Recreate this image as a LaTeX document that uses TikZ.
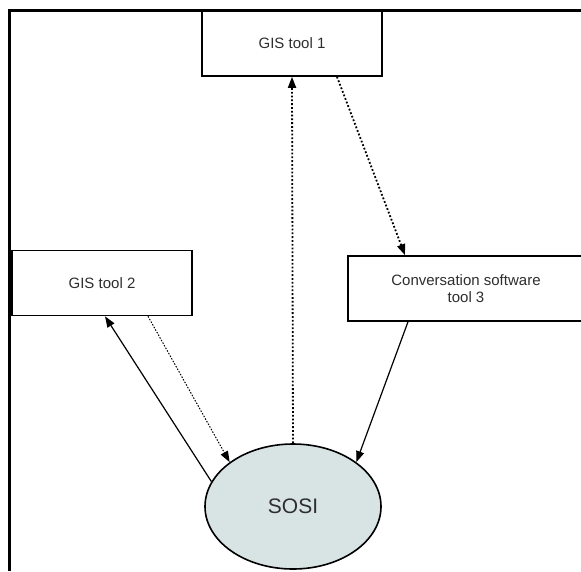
\documentclass[tikz,border=0pt]{standalone}
\usepackage{fontspec}
\setmainfont{Liberation Sans}
\usepackage{xcolor}
\usetikzlibrary{positioning,shapes.geometric,arrows.meta}
\definecolor{sosifill}{HTML}{D8E4E4}
\definecolor{labeltext}{HTML}{2E2E2E}
\tikzset{
  toolbox/.style={draw=black, line width=1.6pt, fill=white, inner sep=0pt,
    minimum width=180pt, minimum height=65pt, align=center,
    font=\fontsize{15}{17.5}\selectfont\color{labeltext}},
  formatnode/.style={ellipse, draw=black, line width=1.6pt, fill=sosifill, inner sep=0pt,
    minimum width=176pt, minimum height=125pt,
    font=\fontsize{21}{25}\selectfont\color{labeltext}},
  solidflow/.style={line width=1.2pt, -{Triangle[length=11pt,width=8pt]}},
  dotflow/.style={line width=1.8pt, dotted, -{Triangle[length=11pt,width=8pt]}},
  thindotflow/.style={line width=1pt, dash pattern=on 1.5pt off 1.5pt, -{Triangle[length=11pt,width=8pt]}},
}
\begin{document}
\begin{tikzpicture}[x=1pt, y=-1pt]

% Canvas and frame
\clip (0,0) rectangle (581,571);
\fill[white] (0,0) rectangle (581,571);
\draw[line width=3pt] (581,10) -- (9.5,10) -- (9.5,571);

% Tools
\node[toolbox] (gisone) at (292,43.5) {GIS tool 1};
\node[toolbox] (gistwo) at (102,283) {GIS tool 2};
\node[toolbox, minimum width=236pt] (convtool) at (466,288.5) {Conversation software\\tool 3};

% Exchange format
\node[formatnode] (sosi) at (293,506.5) {SOSI};

% Flows
\draw[dotflow] (sosi.north) -- (gisone.south);
\draw[dotflow] ([xshift=45pt]gisone.south) -- ([xshift=-61pt]convtool.north);
\draw[solidflow] ([xshift=-58pt]convtool.south) -- (sosi.35);
\draw[solidflow] (sosi.163) -- ([xshift=3pt]gistwo.south);
\draw[thindotflow] ([xshift=46pt]gistwo.south) -- (sosi.145);

\end{tikzpicture}
\end{document}
